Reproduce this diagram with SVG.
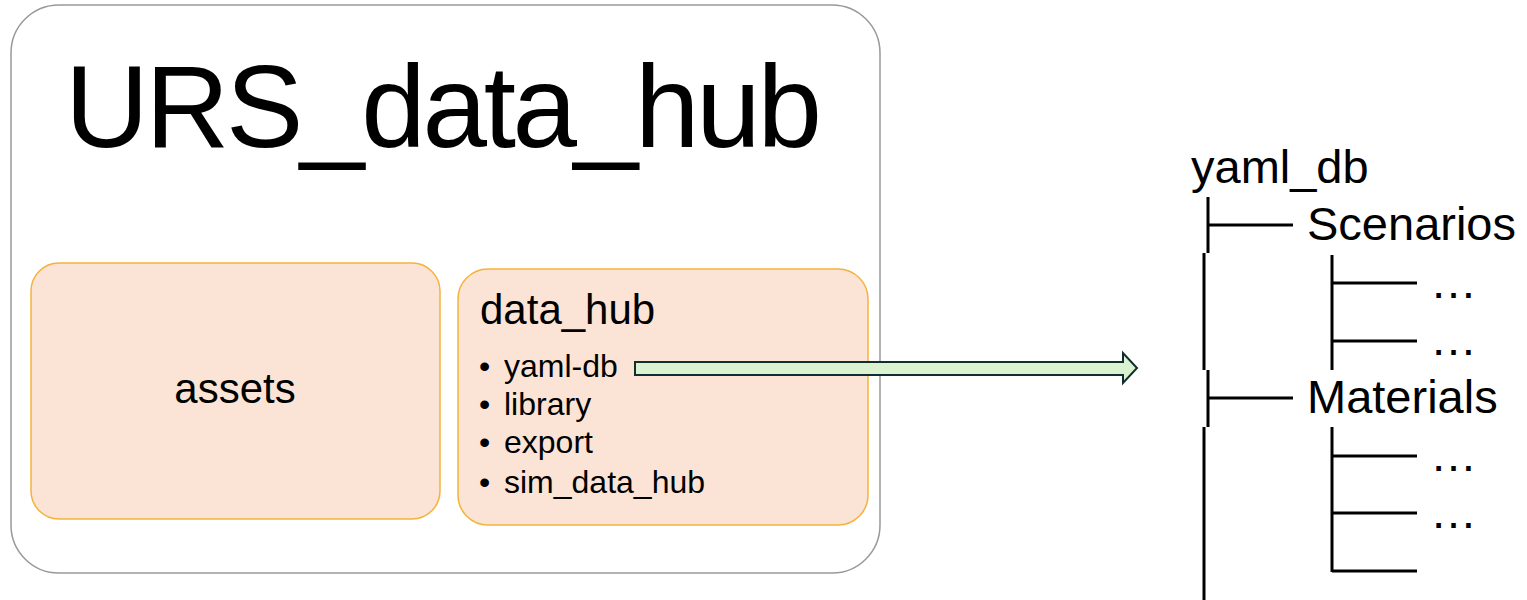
<svg xmlns="http://www.w3.org/2000/svg" width="1527" height="600" viewBox="0 0 1527 600">
  <style>
    text { font-family: "Liberation Sans", Arial, sans-serif; fill: #000; }
    .panel { fill: #fbe4d5; stroke: #f4b23c; stroke-width: 1.5; }
    .tree { stroke: #000; stroke-width: 3; fill: none; stroke-linecap: butt; }
    .item { font-size: 32px; }
    .node { font-size: 47px; }
  </style>

  <g id="urs-data-hub">
    <rect x="11" y="5" width="869" height="568" rx="48" ry="48" fill="#fff" stroke="#999" stroke-width="1.5"/>
    <text x="65" y="147" font-size="116" textLength="757" lengthAdjust="spacing">URS_data_hub</text>
  </g>

  <g id="assets">
    <rect class="panel" x="31" y="263" width="409" height="256" rx="28" ry="28"/>
    <text x="235" y="403" font-size="42" text-anchor="middle">assets</text>
  </g>

  <g id="data-hub">
    <rect class="panel" x="458" y="269" width="410" height="256" rx="30" ry="30"/>
    <text x="480" y="324" font-size="42">data_hub</text>
    <text class="item" x="479" y="377">•</text>
    <text class="item" x="504" y="377">yaml-db</text>
    <text class="item" x="479" y="415">•</text>
    <text class="item" x="504" y="415">library</text>
    <text class="item" x="479" y="453">•</text>
    <text class="item" x="504" y="453">export</text>
    <text class="item" x="479" y="493">•</text>
    <text class="item" x="504" y="493">sim_data_hub</text>
  </g>

  <g id="connectors">
    <path d="M635 362 H1123 V353 L1137 368 L1123 383 V375 H635 Z" fill="#daf2d0" stroke="#112e2e" stroke-width="2" stroke-linejoin="miter"/>
  </g>

  <g id="yaml-db-tree">
    <text class="node" x="1191" y="183">yaml_db</text>
    <path class="tree" d="M1208 197 V253 M1204 253 V370 M1208 370 V427 M1204 427 V600"/>
    <path class="tree" d="M1208 225 H1293 M1208 398 H1293"/>
    <text class="node" x="1307" y="240">Scenarios</text>
    <text class="node" x="1307" y="413">Materials</text>
    <path class="tree" d="M1332 255 V370 M1332 283 H1417 M1332 341 H1417"/>
    <path class="tree" d="M1332 427 V572 M1332 456 H1417 M1332 513 H1417 M1332 571 H1417"/>
    <text class="node" x="1430" y="298">…</text>
    <text class="node" x="1430" y="355">…</text>
    <text class="node" x="1430" y="471">…</text>
    <text class="node" x="1430" y="528">…</text>
  </g>
</svg>
